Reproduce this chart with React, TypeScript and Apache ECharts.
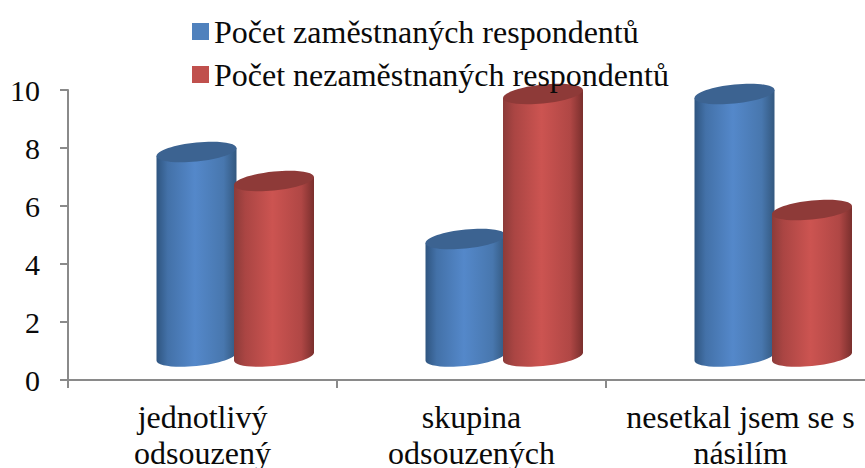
import React, { useEffect, useRef } from "react";
import * as echarts from "echarts";

const categories = ["jednotlivý\nodsouzený", "skupina\nodsouzených", "nesetkal jsem se s\nnásilím"];
const employedName = "Počet zaměstnaných respondentů";
const unemployedName = "Počet nezaměstnaných respondentů";
const employed = [8, 5, 10];
const unemployed = [7, 10, 6];
const yTicks = { min: 0, max: 10, interval: 2 };

const FONT = "'Liberation Serif', 'Times New Roman', serif";
const K = 0.5523;
const HALF_W = 40;
const TILT = 4;
const RY = 9.5;

function ellipseSegs(ctx: any, cx: number, cy: number) {
  const ux = HALF_W, uy = -TILT, vx = 0, vy = RY;
  ctx.moveTo(cx + ux, cy + uy);
  ctx.bezierCurveTo(cx + ux + K * vx, cy + uy + K * vy, cx + vx + K * ux, cy + vy + K * uy, cx + vx, cy + vy);
  ctx.bezierCurveTo(cx + vx - K * ux, cy + vy - K * uy, cx - ux + K * vx, cy - uy + K * vy, cx - ux, cy - uy);
  ctx.bezierCurveTo(cx - ux - K * vx, cy - uy - K * vy, cx - vx - K * ux, cy - vy - K * uy, cx - vx, cy - vy);
  ctx.bezierCurveTo(cx - vx + K * ux, cy - vy + K * uy, cx + ux - K * vx, cy + uy - K * vy, cx + ux, cy + uy);
  ctx.closePath();
}

echarts.graphic.registerShape(
  "cylTop",
  echarts.graphic.extendShape({
    shape: { cx: 0, cy: 0 },
    buildPath(ctx: any, s: any) {
      ellipseSegs(ctx, s.cx, s.cy);
    },
  }) as any
);
echarts.graphic.registerShape(
  "cylBody",
  echarts.graphic.extendShape({
    shape: { cx: 0, top: 0, base: 0 },
    buildPath(ctx: any, s: any) {
      const ux = HALF_W, uy = -TILT, vy = RY;
      const c = s.cx, b = s.base, t = s.top;
      ctx.moveTo(c - ux, t - uy);
      ctx.lineTo(c - ux, b - uy);
      ctx.bezierCurveTo(c - ux, b - uy + K * vy, c - K * ux, b + vy - K * uy, c, b + vy);
      ctx.bezierCurveTo(c + K * ux, b + vy + K * uy, c + ux, b + uy + K * vy, c + ux, b + uy);
      ctx.lineTo(c + ux, t + uy);
      ctx.closePath();
    },
  }) as any
);

function gradient(edgeL: string, midL: string, mid: string, midR: string, edgeR: string) {
  return {
    type: "linear", x: 0, y: 0, x2: 1, y2: 0,
    colorStops: [
      { offset: 0, color: edgeL },
      { offset: 0.14, color: midL },
      { offset: 0.48, color: mid },
      { offset: 0.84, color: midR },
      { offset: 1, color: edgeR },
    ],
  };
}

function cylinder(dx: number, fill: any, topColor: string) {
  return (_params: any, api: any) => {
    const p = api.coord([api.value(0), api.value(1)]);
    const zero = api.coord([api.value(0), 0]);
    const cx = p[0] + dx;
    const cyTop = p[1] + 4;
    const base = zero[1] - 23.5;
    return {
      type: "group",
      children: [
        { type: "cylBody", shape: { cx, top: cyTop, base }, style: { fill } },
        { type: "cylTop", shape: { cx, cy: cyTop }, style: { fill: topColor } },
      ],
    };
  };
}

export default function App() {
  const ref = useRef<HTMLDivElement>(null);
  useEffect(() => {
    document.body.style.margin = "0";
    const chart = echarts.init(ref.current!, undefined, { renderer: "svg" });
    chart.setOption({
      animation: false,
      backgroundColor: "#ffffff",
      legend: {
        show: true,
        orient: "vertical",
        left: 192,
        top: 14,
        padding: 0,
        itemWidth: 17,
        itemHeight: 17,
        itemGap: 8,
        selectedMode: false,
        icon: "rect",
        z: 20,
        textStyle: { fontFamily: FONT, fontSize: 32, color: "#0a0a0a", lineHeight: 35 },
        data: [employedName, unemployedName],
      },
      grid: { left: 68, top: 90, width: 807, height: 290, outerBoundsMode: "none" },
      xAxis: {
        type: "category",
        data: categories,
        axisLine: { lineStyle: { color: "#8a8a8a", width: 2 } },
        axisTick: { show: true, length: 8, alignWithLabel: false, lineStyle: { color: "#8a8a8a", width: 2 } },
        axisLabel: { fontFamily: FONT, fontSize: 32, color: "#0a0a0a", lineHeight: 36, margin: 19, interval: 0 },
        boundaryGap: true,
      },
      yAxis: {
        type: "value",
        ...yTicks,
        splitLine: { show: false },
        axisLine: { show: true, lineStyle: { color: "#8a8a8a", width: 2 } },
        axisTick: { show: true, length: 8, lineStyle: { color: "#8a8a8a", width: 2 } },
        axisLabel: { fontFamily: FONT, fontSize: 30, color: "#0a0a0a", margin: 28 },
      },
      series: [
        {
          name: employedName,
          type: "custom",
          itemStyle: { color: "#4f81bd" },
          encode: { x: 0, y: 1 },
          data: employed.map((v, i) => [i, v]),
          renderItem: cylinder(-6, gradient("#2f5580", "#4371a8", "#5488ca", "#4877ae", "#33587f"), "#3c6391"),
          z: 3,
        },
        {
          name: unemployedName,
          type: "custom",
          itemStyle: { color: "#c0504d" },
          encode: { x: 0, y: 1 },
          data: unemployed.map((v, i) => [i, v]),
          renderItem: cylinder(71.5, gradient("#8c3b39", "#aa4543", "#cc5451", "#b04745", "#7a2f2d"), "#8e3a38"),
          z: 4,
        },
      ],
    });
    return () => chart.dispose();
  }, []);
  return <div ref={ref} style={{ width: 865, height: 468, overflow: "hidden" }} />;
}
